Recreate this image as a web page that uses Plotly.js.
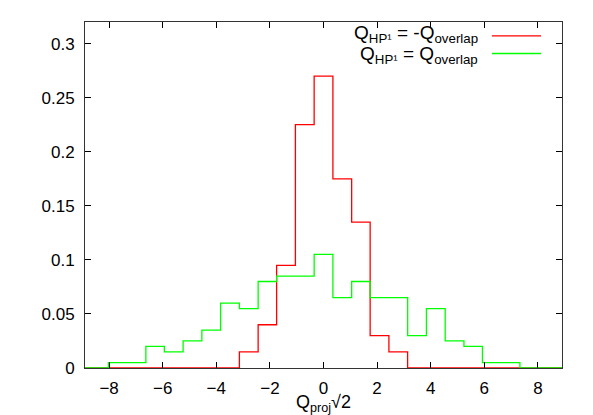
<!DOCTYPE html>
<html>
<head>
<meta charset="utf-8">
<script src="https://cdn.plot.ly/plotly-3.0.1.min.js"></script>
<style>
  body { margin: 0; background: #fff; }
</style>
</head>
<body>
<div id="plot" style="width:593px;height:415px;"></div>
<script>
// bin width of both histograms (2*pi/9)
let binWidth = 0.698

// Q_HP^1 = -Q_overlap (red)
let redCenters = [-2.79, -2.09, -1.40, -0.70, 0, 0.70, 1.40, 2.09, 2.79]
let redValues = [0.015, 0.04, 0.095, 0.225, 0.27, 0.175, 0.135, 0.03, 0.015]

// Q_HP^1 = Q_overlap (green)
let greenCenters = [-7.68, -6.98, -6.28, -5.59, -4.89, -4.19, -3.49, -2.79, -2.09, -1.40, -0.70,
                    0, 0.70, 1.40, 2.09, 2.79, 3.49, 4.19, 4.89, 5.59, 6.28, 6.98]
let greenValues = [0.005, 0.005, 0.02, 0.015, 0.025, 0.035, 0.06, 0.055, 0.08, 0.085, 0.085,
                   0.105, 0.065, 0.08, 0.065, 0.065, 0.03, 0.055, 0.025, 0.02, 0.005, 0.005]

let xRange = [-8.9, 8.9]
let yRange = [0, 0.32]

// turn bin centers + heights into a step outline (gnuplot "with steps" look)
function stepTrace(centers, values, color) {
    let xs = [xRange[0]]
    let ys = [0]
    centers.forEach((c, i) => {
        xs.push(c - binWidth / 2)
        ys.push(values[i])
    })
    xs.push(centers[centers.length - 1] + binWidth / 2)
    ys.push(0)
    xs.push(xRange[1])
    ys.push(0)
    return {
        x: xs,
        y: ys,
        type: 'scatter',
        mode: 'lines',
        line: {color: color, width: 1.3, shape: 'hv'},
        showlegend: false,
        hoverinfo: 'skip'
    }
}

let data = [
    stepTrace(redCenters, redValues, '#ff0000'),
    stepTrace(greenCenters, greenValues, '#00ff00')
]

let fam = 'Liberation Sans, Arial, sans-serif'
let font = {family: fam, size: 17, color: '#000'}

let axisStyle = {
    showgrid: false,
    zeroline: false,
    showline: true,
    linecolor: '#333',
    linewidth: 1,
    mirror: 'ticks',
    ticks: 'inside',
    ticklen: 6,
    tickcolor: '#000',
    tickfont: font
}

// key in the top right corner, text right aligned with the sample line after it
let keyLabels = ['Q<sub>HP¹</sub> = -Q<sub>overlap</sub>',
                 'Q<sub>HP¹</sub> = Q<sub>overlap</sub>']
let keyColors = ['#ff0000', '#00ff00']
let keyY = [0.960, 0.909]
let keyTextY = [0.966, 0.905]

let annotations = keyLabels.map((t, i) => ({
    text: t,
    xref: 'paper', yref: 'paper',
    x: 0.828, y: keyTextY[i],
    xanchor: 'right', yanchor: 'middle',
    showarrow: false,
    font: {family: fam, size: 19, color: '#000'}
}))

let shapes = keyColors.map((c, i) => ({
    type: 'line',
    xref: 'paper', yref: 'paper',
    x0: 0.853, x1: 0.956, y0: keyY[i], y1: keyY[i],
    line: {color: c, width: 1.3}
}))

let layout = {
    width: 593,
    height: 415,
    margin: {l: 85, r: 31, t: 22, b: 47},
    paper_bgcolor: '#fff',
    plot_bgcolor: '#fff',
    font: font,
    xaxis: Object.assign({}, axisStyle, {
        range: xRange,
        tickvals: [-8, -6, -4, -2, 0, 2, 4, 6, 8],
        ticklabelstandoff: 5,
        title: {text: 'Q<sub>proj</sub>√2', font: {family: fam, size: 18}, standoff: 0}
    }),
    yaxis: Object.assign({}, axisStyle, {
        range: yRange,
        tickvals: [0, 0.05, 0.1, 0.15, 0.2, 0.25, 0.3],
        ticktext: ['0', '0.05', '0.1', '0.15', '0.2', '0.25', '0.3'],
        ticklabelstandoff: 6
    }),
    annotations: annotations,
    shapes: shapes
}

Plotly.newPlot('plot', data, layout, {displayModeBar: false, staticPlot: true})
</script>
</body>
</html>
